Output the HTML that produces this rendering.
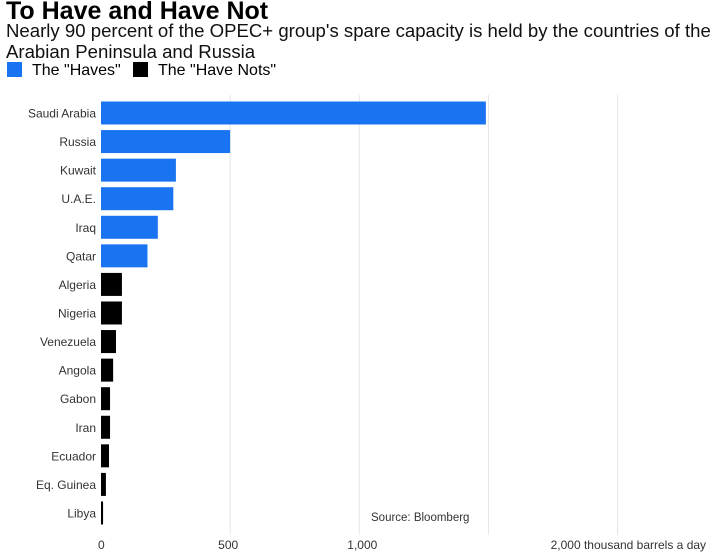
<!DOCTYPE html>
<html><head><meta charset="utf-8"><style>
body{margin:0;background:#fff;font-family:"Liberation Sans",sans-serif;}
#wrap{position:relative;width:720px;height:555px;overflow:hidden;}
.t{position:absolute;white-space:nowrap;}
</style></head><body>
<div id="wrap">
<div class="t" style="left:6px;top:-3px;font-size:25px;font-weight:bold;color:#000;">To Have and Have Not</div>
<div class="t" style="left:6px;top:20px;font-size:18.6px;line-height:21px;color:#111;">Nearly 90 percent of the OPEC+ group's spare capacity is held by the countries of the<br>Arabian Peninsula and Russia</div>
<div class="t" style="left:7px;top:62px;font-size:16px;"><span style="display:inline-block;width:15px;height:15px;background:#1a73f0;vertical-align:-2px;margin-right:10px"></span>The "Haves"</div>
<div class="t" style="left:133px;top:62px;font-size:16px;"><span style="display:inline-block;width:15px;height:15px;background:#000;vertical-align:-2px;margin-right:10px"></span>The "Have Nots"</div>
<svg id="svg" width="720" height="555" style="position:absolute;left:0;top:0"></svg>
</div>
<script>
const categories=["Saudi Arabia","Russia","Kuwait","U.A.E.","Iraq","Qatar","Algeria","Nigeria","Venezuela","Angola","Gabon","Iran","Ecuador","Eq. Guinea","Libya"];
const values=[1490,500,290,280,220,180,81,81,58,47,35,35,31,19,8];
const groups=["have","have","have","have","have","have","not","not","not","not","not","not","not","not","not"];
const ticks=[0,500,1000,1500,2000];
const tickLabels=["0","500","1,000","","2,000 thousand barrels a day"];
const NS="http://www.w3.org/2000/svg";
const svg=document.getElementById('svg');
const x=v=>101+v*0.2583;
const y=i=>113+i*28.57;
function mk(t,a){const e=document.createElementNS(NS,t);for(const k in a)e.setAttribute(k,a[k]);svg.appendChild(e);return e;}
ticks.forEach((t,i)=>{
 if(t>0){const g=mk('line',{x1:x(t),x2:x(t),y1:95,y2:535,stroke:'#e6e6e6','stroke-width':1});
 
 }
 if(tickLabels[i]){const tx=mk('text',{x:x(t)-(t===0?3:0),y:549,'font-size':12,fill:'#333','font-family':'Liberation Sans, sans-serif'});
 if(t===2000)tx.setAttribute('x',x(t)-67);
 else if(t>0)tx.setAttribute('x',x(t)-12);
 tx.textContent=tickLabels[i];
 
 }
});
categories.forEach((c,i)=>{
 const r=mk('rect',{x:x(0),y:y(i)-11.5,width:x(values[i])-x(0),height:23,fill:groups[i]==='have'?'#1a73f0':'#000'});
 
 
 const l=mk('text',{x:96,y:y(i)+4.5,'font-size':12,fill:'#333','text-anchor':'end','font-family':'Liberation Sans, sans-serif'});
 l.textContent=c;
 
 
});
const s=mk('text',{x:371,y:521,'font-size':11.5,fill:'#333','font-family':'Liberation Sans, sans-serif'});
s.textContent="Source: Bloomberg";


</script>
</body></html>
